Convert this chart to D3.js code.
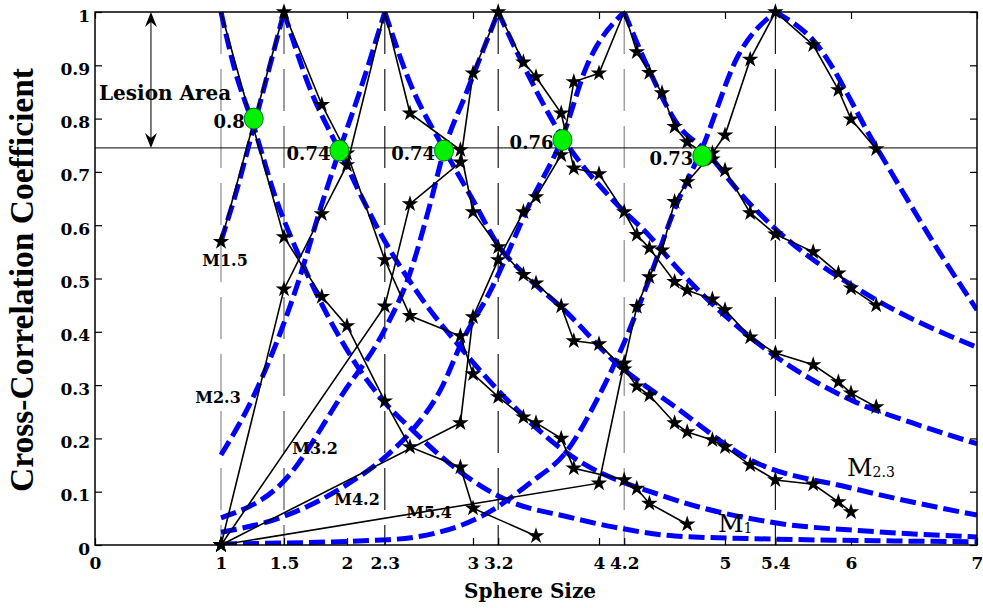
<!DOCTYPE html>
<html>
<head>
<meta charset="utf-8">
<script src="https://cdn.jsdelivr.net/npm/d3@7"></script>
<style>
  html, body { margin: 0; padding: 0; background: #fff; }
  svg { display: block; }
</style>
</head>
<body>
<svg id="chart" width="983" height="608"></svg>
<script>
// ---- axis ticks ----
const xTickValues = [0, 1, 1.5, 2, 2.3, 3, 3.2, 4, 4.2, 5, 5.4, 6, 7];
const yTickValues = [0, 0.1, 0.2, 0.3, 0.4, 0.5, 0.6, 0.7, 0.8, 0.9, 1];

// model sphere sizes (dashed reference verticals) and lesion threshold
const modelSizes = [1, 1.5, 2.3, 3.2, 4.2, 5.4];
const lesionThreshold = 0.745;

// ---- measured cross-correlation (black, star markers) ----
const m1Size  = [1, 1.5, 1.8, 2.0, 2.3, 2.5, 2.9, 3.0, 3.5];
const m1Corr  = [1, 0.578, 0.466, 0.411, 0.27, 0.184, 0.146, 0.069, 0.017];

const m15Size = [1, 1.5, 1.8, 2.0, 2.3, 2.5, 2.9, 3.0, 3.2, 3.4, 3.5, 3.7, 3.8, 4.2, 4.3, 4.4, 4.7];
const m15Corr = [0.569, 1, 0.826, 0.735, 0.535, 0.43, 0.392, 0.321, 0.278, 0.24, 0.229, 0.2, 0.144, 0.122, 0.106, 0.078, 0.039];

const m23Size = [1, 1.5, 1.8, 2.0, 2.3, 2.5, 2.9, 3.0, 3.2, 3.4, 3.5, 3.7, 3.8, 4.0, 4.2, 4.3, 4.4, 4.6, 4.7, 4.9, 5.0, 5.2, 5.4, 5.7, 5.9, 6.0];
const m23Corr = [0, 0.48, 0.621, 0.713, 1, 0.81, 0.741, 0.625, 0.559, 0.507, 0.491, 0.448, 0.383, 0.377, 0.33, 0.298, 0.281, 0.229, 0.212, 0.197, 0.184, 0.15, 0.122, 0.114, 0.081, 0.062];

const m32Size = [1, 2.3, 2.5, 2.9, 3.0, 3.2, 3.4, 3.5, 3.7, 3.8, 4.0, 4.2, 4.3, 4.4, 4.6, 4.7, 4.9, 5.0, 5.2, 5.4, 5.7, 5.9, 6.0, 6.2];
const m32Corr = [0, 0.448, 0.64, 0.718, 0.885, 1, 0.906, 0.878, 0.81, 0.707, 0.696, 0.625, 0.582, 0.557, 0.494, 0.478, 0.461, 0.441, 0.39, 0.36, 0.338, 0.306, 0.285, 0.259];

const m42Size = [1, 2.9, 3.0, 3.2, 3.4, 3.5, 3.7, 3.8, 4.0, 4.2, 4.3, 4.4, 4.5, 4.6, 4.7, 4.9, 5.0, 5.2, 5.4, 5.7, 5.9, 6.0, 6.2];
const m42Corr = [0, 0.229, 0.428, 0.535, 0.625, 0.653, 0.732, 0.869, 0.885, 1, 0.925, 0.886, 0.848, 0.785, 0.756, 0.724, 0.703, 0.623, 0.583, 0.55, 0.51, 0.482, 0.45];

const m54Size = [1, 4.0, 4.2, 4.3, 4.4, 4.5, 4.6, 4.7, 4.9, 5.0, 5.2, 5.4, 5.7, 5.9, 6.0, 6.2];
const m54Corr = [0, 0.116, 0.341, 0.447, 0.503, 0.553, 0.644, 0.681, 0.735, 0.769, 0.911, 1, 0.938, 0.854, 0.799, 0.743];

// peaks drawn without a star marker
const unmarkedPeaks = [1, 2.3, 4.2];

// ---- fitted model curves (blue dashed) ----
const f1Size  = [1, 1.1, 1.26, 1.44, 1.6, 1.81, 2.05, 2.29, 2.5, 2.9, 3.27, 3.75, 4.11, 4.6, 5.4, 6.2, 7];
const f1Corr  = [1, 0.9, 0.785, 0.647, 0.553, 0.447, 0.347, 0.27, 0.22, 0.137, 0.084, 0.053, 0.034, 0.017, 0.011, 0.008, 0.006];

const f15Size = [1, 1.13, 1.26, 1.5, 1.7, 1.94, 2.26, 2.6, 2.92, 3.2, 3.75, 4.56, 5.36, 6.2, 7];
const f15Corr = [0.57, 0.67, 0.785, 1, 0.86, 0.74, 0.587, 0.46, 0.365, 0.29, 0.172, 0.088, 0.043, 0.025, 0.015];

const f23Size = [1, 1.25, 1.6, 1.81, 1.94, 2.1, 2.3, 2.5, 2.77, 3.0, 3.21, 3.4, 3.75, 4.11, 4.6, 5.2, 6.0, 7];
const f23Corr = [0.169, 0.275, 0.484, 0.647, 0.74, 0.85, 1, 0.867, 0.743, 0.647, 0.559, 0.51, 0.435, 0.347, 0.26, 0.16, 0.107, 0.056];

const f32Size = [1, 1.5, 1.97, 2.29, 2.5, 2.66, 2.77, 2.95, 3.2, 3.4, 3.71, 4.11, 4.4, 4.6, 5.2, 6.0, 6.5, 7];
const f32Corr = [0.051, 0.12, 0.285, 0.4, 0.51, 0.64, 0.74, 0.85, 1, 0.9, 0.765, 0.647, 0.58, 0.525, 0.39, 0.272, 0.228, 0.19];

const f42Size = [1, 1.49, 1.97, 2.34, 2.52, 2.74, 2.92, 3.13, 3.45, 3.71, 3.9, 4.2, 4.4, 4.64, 4.82, 5.17, 5.41, 6.2, 7];
const f42Corr = [0.024, 0.053, 0.109, 0.173, 0.216, 0.29, 0.385, 0.473, 0.64, 0.765, 0.897, 1, 0.89, 0.784, 0.745, 0.647, 0.591, 0.46, 0.371];

const f54Size = [1, 2.33, 3.06, 3.45, 3.75, 4.0, 4.2, 4.4, 4.6, 4.82, 5.1, 5.4, 5.7, 6.2, 6.45, 6.7, 7];
const f54Corr = [0.002, 0.01, 0.053, 0.116, 0.178, 0.28, 0.38, 0.5, 0.63, 0.745, 0.916, 1, 0.947, 0.747, 0.647, 0.55, 0.441];

// ---- crossing points of neighbouring models ----
const crossSize = [1.26, 1.94, 2.77, 3.71, 4.82];
const crossCorr = [0.8, 0.74, 0.74, 0.76, 0.73];

// ---- text ----
const modelLabelText = ["M1.5", "M2.3", "M3.2", "M4.2", "M5.4"];
const xTitle = "Sphere Size";
const yTitle = "Cross-Correlation Coefficient";
const lesionText = "Lesion Area";

// ---------------------------------------------------------------
const measured = [
  [m1Size, m1Corr], [m15Size, m15Corr], [m23Size, m23Corr],
  [m32Size, m32Corr], [m42Size, m42Corr], [m54Size, m54Corr]
].map(([s, c]) => s.map((v, i) => [v, c[i]]));

const fitted = [
  [f1Size, f1Corr], [f15Size, f15Corr], [f23Size, f23Corr],
  [f32Size, f32Corr], [f42Size, f42Corr], [f54Size, f54Corr]
].map(([s, c]) => s.map((v, i) => [v, c[i]]));

const serif = "'DejaVu Serif', serif";
const svg = d3.select("#chart");

const x = d3.scaleLinear().domain([0, 7]).range([95, 977]);
const y = d3.scaleLinear().domain([0, 1]).range([545, 12]);

svg.append("defs").append("clipPath").attr("id", "plot-clip")
  .append("rect")
  .attr("x", x(0)).attr("y", y(1))
  .attr("width", x(7) - x(0)).attr("height", y(0) - y(1));

// dashed verticals at the model sizes
const refColors = ["#8a8a8a", "#5a5a5a", "#1a1a1a", "#1a1a1a", "#8a8a8a", "#1a1a1a"];
svg.append("g").selectAll("line").data(modelSizes).join("line")
  .attr("x1", d => x(d)).attr("x2", d => x(d))
  .attr("y1", y(1)).attr("y2", y(0))
  .attr("stroke", (d, i) => refColors[i])
  .attr("stroke-width", 1.2)
  .attr("stroke-dasharray", "42,15");

// lesion threshold
svg.append("line")
  .attr("x1", x(0)).attr("x2", x(7))
  .attr("y1", y(lesionThreshold)).attr("y2", y(lesionThreshold))
  .attr("stroke", "#000").attr("stroke-width", 1);

// fitted curves: each side of the peak is interpolated separately
const smooth = d3.line().x(d => x(d[0])).y(d => y(d[1])).curve(d3.curveMonotoneX);
const fitPath = pts => {
  const k = d3.maxIndex(pts, d => d[1]);
  const rise = pts.slice(0, k + 1), fall = pts.slice(k);
  return (rise.length > 1 ? smooth(rise) : "") + (fall.length > 1 ? smooth(fall) : "");
};
svg.append("g").attr("clip-path", "url(#plot-clip)")
  .selectAll("path").data(fitted).join("path")
  .attr("d", fitPath)
  .attr("fill", "none")
  .attr("stroke", "#0000ff")
  .attr("stroke-width", 5)
  .attr("stroke-dasharray", "16,6");

// measured curves
const straight = d3.line().x(d => x(d[0])).y(d => y(d[1]));
svg.append("g").selectAll("path").data(measured).join("path")
  .attr("d", straight)
  .attr("fill", "none")
  .attr("stroke", "#000")
  .attr("stroke-width", 1.6);

const star = d3.symbol(d3.symbolStar, 85)();
const marks = measured.flat()
  .filter(d => !(d[1] === 1 && unmarkedPeaks.includes(d[0])));
svg.append("g").selectAll("path").data(marks).join("path")
  .attr("d", star)
  .attr("transform", d => `translate(${x(d[0])},${y(d[1])})`)
  .attr("fill", "#000");

// axes: ticks point inward on all four sides
const styleAxis = g => {
  g.select(".domain").remove();
  g.selectAll(".tick line").attr("stroke", "#000").attr("stroke-width", 1.2);
  g.selectAll("text")
    .attr("font-family", serif).attr("font-weight", "bold")
    .attr("font-size", 17).attr("fill", "#000");
};
svg.append("g").attr("transform", `translate(0,${y(0)})`)
  .call(d3.axisBottom(x).tickValues(xTickValues).tickSizeInner(-7).tickSizeOuter(0)
    .tickPadding(12).tickFormat(d => String(d)))
  .call(styleAxis);
svg.append("g").attr("transform", `translate(0,${y(1)})`)
  .call(d3.axisTop(x).tickValues(xTickValues).tickSizeInner(-7).tickSizeOuter(0).tickFormat(""))
  .call(styleAxis);
svg.append("g").attr("transform", `translate(${x(0)},0)`)
  .call(d3.axisLeft(y).tickValues(yTickValues).tickSizeInner(-7).tickSizeOuter(0)
    .tickPadding(5).tickFormat(d => String(d)))
  .call(styleAxis)
  .selectAll("text").attr("dy", "0.53em");
svg.append("g").attr("transform", `translate(${x(7)},0)`)
  .call(d3.axisRight(y).tickValues(yTickValues).tickSizeInner(-7).tickSizeOuter(0).tickFormat(""))
  .call(styleAxis);

// plot frame
svg.append("rect")
  .attr("x", x(0)).attr("y", y(1))
  .attr("width", x(7) - x(0)).attr("height", y(0) - y(1))
  .attr("fill", "none").attr("stroke", "#000").attr("stroke-width", 1.5);

// axis titles
svg.append("text")
  .attr("x", 530).attr("y", 598)
  .attr("text-anchor", "middle")
  .attr("font-family", serif).attr("font-weight", "bold").attr("font-size", 20)
  .text(xTitle);
svg.append("text")
  .attr("transform", "translate(33,280) rotate(-90)")
  .attr("text-anchor", "middle")
  .attr("font-family", "'Liberation Serif', serif").attr("font-weight", "bold")
  .attr("font-size", 34)
  .attr("textLength", 424).attr("lengthAdjust", "spacingAndGlyphs")
  .text(yTitle);

// lesion area double arrow
const ax = x(0.444);
svg.append("line")
  .attr("x1", ax).attr("x2", ax)
  .attr("y1", y(1) + 4).attr("y2", y(lesionThreshold) - 4)
  .attr("stroke", "#333").attr("stroke-width", 1.3);
const headUp = `M${ax},${y(1)} L${ax - 6},${y(1) + 15} L${ax},${y(1) + 10} L${ax + 6},${y(1) + 15} Z`;
const yb = y(lesionThreshold);
const headDown = `M${ax},${yb} L${ax - 6},${yb - 15} L${ax},${yb - 10} L${ax + 6},${yb - 15} Z`;
svg.append("path").attr("d", headUp + headDown).attr("fill", "#000");
svg.append("text")
  .attr("x", 99).attr("y", 100)
  .attr("font-family", serif).attr("font-weight", "bold").attr("font-size", 20)
  .text(lesionText);

// measured-curve labels near their start
const modelLabelPos = [[225, 266], [218, 403], [315, 454], [357, 505], [429, 518]];
svg.append("g").selectAll("text").data(modelLabelText).join("text")
  .attr("x", (d, i) => modelLabelPos[i][0]).attr("y", (d, i) => modelLabelPos[i][1])
  .attr("text-anchor", "middle")
  .attr("font-family", serif).attr("font-weight", "bold").attr("font-size", 16)
  .text(d => d);

// fitted-curve labels with subscripts
const subLabels = [["M", "2.3", 847, 476], ["M", "1", 718, 532]];
subLabels.forEach(([m, sub, lx, ly]) => {
  const t = svg.append("text").attr("x", lx).attr("y", ly)
    .attr("font-family", serif).attr("font-size", 25);
  t.append("tspan").text(m);
  t.append("tspan").attr("font-size", 14).attr("dy", 1).text(sub);
});

// crossing values and markers
const crossing = crossSize.map((s, i) => [s, crossCorr[i]]);
svg.append("g").selectAll("text").data(crossing).join("text")
  .attr("x", d => x(d[0]) - 9).attr("y", d => y(d[1]) + 9)
  .attr("text-anchor", "end")
  .attr("font-family", serif).attr("font-weight", "bold").attr("font-size", 18)
  .text(d => String(d[1]));
svg.append("g").selectAll("ellipse").data(crossing).join("ellipse")
  .attr("cx", d => x(d[0])).attr("cy", d => y(d[1]))
  .attr("rx", 9.5).attr("ry", 10.5)
  .attr("fill", "#00f000").attr("stroke", "#007a00").attr("stroke-width", 1);
</script>
</body>
</html>
